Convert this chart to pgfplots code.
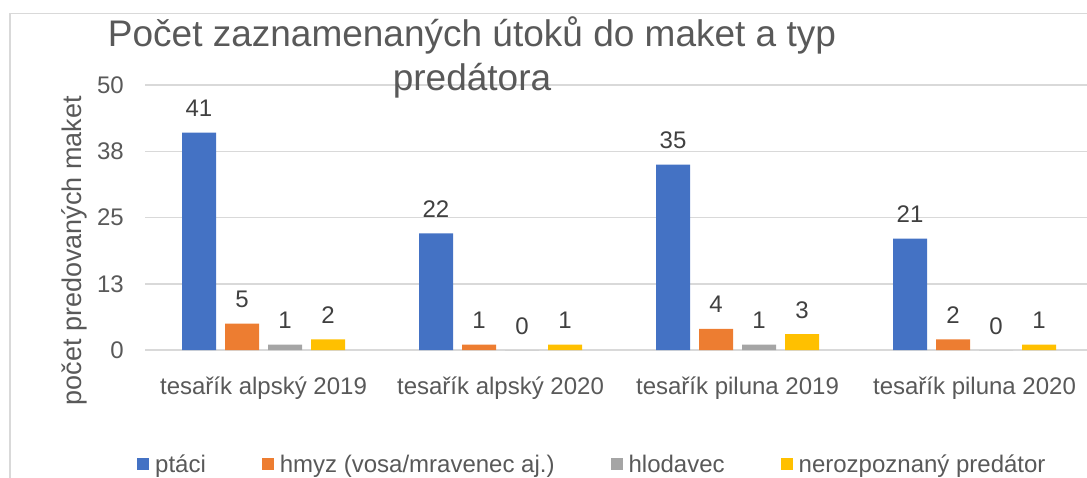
\documentclass[border=0pt]{standalone}
\usepackage{fontspec}
\setmainfont{Liberation Sans}
\usepackage{pgfplots}
\pgfplotsset{compat=1.18}
\definecolor{cblue}{HTML}{4472C4}
\definecolor{corange}{HTML}{ED7D31}
\definecolor{cgray}{HTML}{A5A5A5}
\definecolor{cgold}{HTML}{FFC000}
\definecolor{gridc}{HTML}{D9D9D9}
\definecolor{tgray}{HTML}{595959}
\definecolor{vgray}{HTML}{404040}
\pgfplotsset{sqlegend/.style={legend image code/.code={\fill[##1] (0pt,-6pt) rectangle (12pt,6pt);}}}
\begin{document}
\begin{tikzpicture}[x=1pt,y=1pt]
\useasboundingbox (0,0) rectangle (1087,-477);
\draw[line width=1.5pt, color=gridc] (10,-540) -- (10,-13.5) -- (1140,-13.5);
\begin{axis}[
  at={(145pt,-350pt)}, anchor=south west,
  width=948pt, height=265pt, scale only axis,
  xmin=-0.5, xmax=3.5, ymin=0, ymax=50,
  ybar=9pt, bar width=34pt,
  axis line style={draw=none},
  major tick length=0pt,
  tick style={draw=none},
  ymajorgrids,
  grid style={color=gridc, line width=1.5pt},
  xtick={0,1,2,3},
  xticklabels={tesařík alpský 2019, tesařík alpský 2020, tesařík piluna 2019, tesařík piluna 2020},
  ytick={0,12.5,25,37.5,50},
  yticklabels={0,13,25,38,50},
  /pgf/number format/assume math mode=true,
  xticklabel style={font=\fontsize{24}{28}\selectfont, text=tgray, anchor=base, inner sep=0pt, yshift=-44pt},
  yticklabel style={font=\fontsize{24}{28}\selectfont, text=tgray, anchor=east, inner sep=0pt, xshift=-21pt},
  ylabel={počet predovaných maket},
  ylabel style={at={(axis cs:-0.7996,18.77)}, anchor=center, font=\fontsize{27}{31}\selectfont, text=tgray},
  title={Počet zaznamenaných útoků do maket a typ\\predátora},
  title style={at={(axis cs:0.8797,47.92)}, anchor=base, align=center, font=\fontsize{37}{44}\selectfont, text=tgray, inner sep=0pt},
  nodes near coords,
  every node near coord/.append style={font=\fontsize{24}{28}\selectfont, text=vgray, anchor=base, inner sep=0pt, yshift=16pt},
  legend columns=4,
  legend style={at={(axis cs:-0.5338,-21.6)}, anchor=west, draw=none, fill=none,
    font=\fontsize{24}{28}\selectfont, text=tgray, inner sep=0pt,
    nodes={inner sep=0pt},
    /tikz/every even column/.append style={column sep=56pt},
    /tikz/every odd column/.append style={column sep=6pt}},
]
\addplot[fill=cblue, draw=none, sqlegend] coordinates {(0,41) (1,22) (2,35) (3,21)};
\addplot[fill=corange, draw=none, sqlegend] coordinates {(0,5) (1,1) (2,4) (3,2)};
\addplot[fill=cgray, draw=none, sqlegend] coordinates {(0,1) (1,0) (2,1) (3,0)};
\addplot[fill=cgold, draw=none, sqlegend] coordinates {(0,2) (1,1) (2,3) (3,1)};
\legend{ptáci, hmyz (vosa/mravenec aj.), hlodavec, nerozpoznaný predátor}
\end{axis}
\end{tikzpicture}
\end{document}
